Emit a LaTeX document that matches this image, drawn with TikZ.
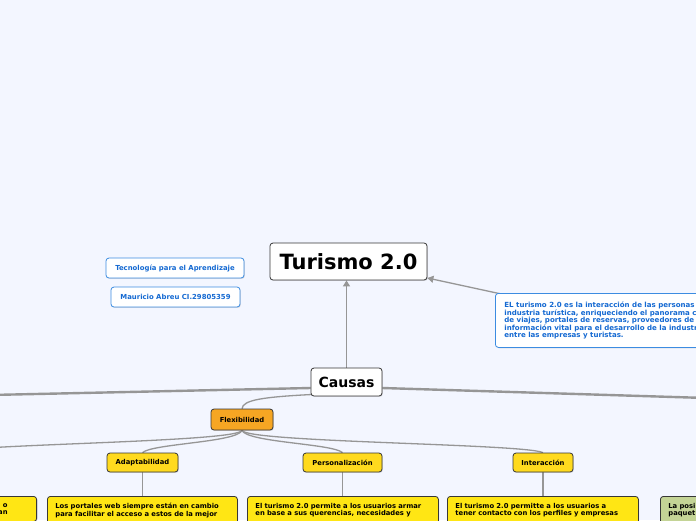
\documentclass[tikz,border=0pt]{standalone}
\usepackage{fontspec}
\setmainfont{DejaVu Sans}
\usetikzlibrary{arrows.meta,shadows,backgrounds}
\definecolor{bg}{RGB}{243,246,255}
\definecolor{lnk}{RGB}{150,150,150}
\definecolor{bluetx}{RGB}{20,105,210}
\definecolor{blueln}{RGB}{60,140,225}
\definecolor{orangef}{RGB}{246,166,35}
\definecolor{yellowf}{RGB}{255,218,30}
\definecolor{yellowb}{RGB}{255,230,20}
\definecolor{greenf}{RGB}{196,212,150}
\definecolor{boxln}{RGB}{55,55,55}
\begin{document}
\begin{tikzpicture}[x=1pt,y=-1pt,
  box/.style={draw=boxln, line width=0.8pt, rounded corners=3pt, inner sep=0pt,
    drop shadow={shadow xshift=0.8pt, shadow yshift=-0.9pt, opacity=0.25}},
  topic/.style={box, fill=white, font=\bfseries},
  bluebox/.style={box, draw=blueln, fill=white, text=bluetx,
    font=\fontsize{6.9}{7}\selectfont\bfseries},
  small/.style={font=\fontsize{6.8}{7.2}\selectfont\bfseries},
  sub/.style={box, fill=yellowf, small},
  leaf/.style={box, fill=yellowb, small, align=left, inner xsep=8pt, inner ysep=7pt},
  thickln/.style={draw=lnk, line width=2.4pt},
  thinln/.style={draw=lnk, line width=1.3pt},
  arr/.style={draw=lnk, line width=1.3pt, -{Triangle[length=6pt,width=7pt]}}
]
\useasboundingbox (0,0) rectangle (696,520);
\clip (0,0) rectangle (696,520);

% nodes
\node[topic, minimum width=157pt, minimum height=37pt, font=\fontsize{21}{25}\selectfont\bfseries]
  (tur) at (348.5,261.5) {Turismo 2.0};
\node[bluebox, minimum width=138pt, minimum height=20pt] (tec) at (175,268) {Tecnología para el Aprendizaje};
\node[bluebox, minimum width=129pt, minimum height=20pt] (mau) at (175.5,297) {Mauricio Abreu CI.29805359};
\node[bluebox, anchor=north west, align=left, inner xsep=9pt, minimum height=54pt,
  font=\fontsize{7.05}{6.9}\selectfont\bfseries] (desc) at (495,293)
  {EL turismo 2.0 es la interacción de las personas en la\\
   industria turística, enriqueciendo el panorama con sitios\\
   de viajes, portales de reservas, proveedores de servicios\\
   información vital para el desarrollo de la industria y\\
   entre las empresas y turistas.};
\node[topic, minimum width=71pt, minimum height=28pt, font=\fontsize{14}{17}\selectfont\bfseries]
  (cau) at (346.5,382) {Causas};
\node[box, fill=orangef, small, minimum width=62pt, minimum height=21pt] (flx) at (242,419.5) {Flexibilidad};
\node[sub, minimum width=71pt, minimum height=19pt] (ada) at (142.5,462.5) {Adaptabilidad};
\node[sub, minimum width=79pt, minimum height=19pt] (per) at (342.5,462.5) {Personalización};
\node[sub, minimum width=60pt, minimum height=19pt] (int) at (543,462.5) {Interacción};
\node[leaf, anchor=north west, text width=174pt] (l1) at (47,496)
  {Los portales web siempre están en cambio\\para facilitar el acceso a estos de la mejor};
\node[leaf, anchor=north west, text width=175pt] (l2) at (247,496)
  {El turismo 2.0 permite a los usuarios armar\\en base a sus querencias, necesidades y};
\node[leaf, anchor=north west, text width=175pt] (l3) at (447,496)
  {El turismo 2.0 permitte a los usuarios a\\tener contacto con los perfiles y empresas};
\node[leaf, anchor=north east, align=right, inner xsep=29pt] (l0) at (37,496) {o\\an};
\node[leaf, fill=greenf, anchor=north west, text width=60pt] (l4) at (660,496) {La posi\\paquet};

\coordinate (offL) at (-10,395);
\coordinate (offR) at (706,398);
\coordinate (offA) at (-58,453);
\coordinate (ds) at (506,295);

\begin{scope}[on background layer]
  \fill[bg] (0,0) rectangle (696,520);
  \draw[thickln] ([yshift=-6pt]cau.west) -- (offL);
  \draw[thickln] ([yshift=-6pt]cau.east) -- (offR);
  \draw[arr] (cau.north) -- (cau.north |- tur.south);
  \draw[arr] (ds) -- ([yshift=-16.5pt]tur.east);
  \draw[thinln] ([xshift=3pt,yshift=2pt]cau.south west) .. controls (262,397) and (243,400) .. (flx.north);
  \draw[thinln] (flx.south) .. controls +(-5,12) and +(20,-9) .. (offA);
  \draw[thinln] (flx.south) .. controls +(-5,12) and +(10,-9) .. (ada.north);
  \draw[thinln] (flx.south) .. controls +(5,12) and +(-10,-9) .. (per.north);
  \draw[thinln] (flx.south) .. controls +(5,12) and +(-20,-9) .. (int.north);
  \draw[thinln] (ada.south) -- (ada.south |- l1.north);
  \draw[thinln] (per.south) -- (per.south |- l2.north);
  \draw[thinln] (int.south) -- (int.south |- l3.north);
\end{scope}
\end{tikzpicture}
\end{document}
